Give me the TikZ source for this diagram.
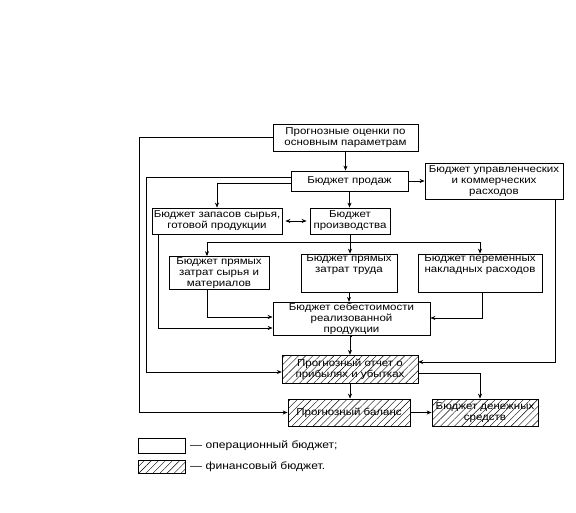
\documentclass[tikz,border=0pt]{standalone}
\usepackage{fontspec}
\setmainfont[FakeStretch=1.15]{Liberation Sans}
\usetikzlibrary{arrows.meta,patterns.meta}
\tikzset{
  box/.style={draw, line width=0.8pt, inner sep=1pt, align=center,
    font=\fontsize{10pt}{11pt}\selectfont},
  finb/.style={box, pattern={Lines[angle=45,distance=5pt,line width=0.4pt]}},
  arr/.style={line width=0.7pt, -{Stealth[length=5pt,width=4pt]}},
  ln/.style={line width=0.7pt},
  legtxt/.style={anchor=west, inner sep=0pt, font=\fontsize{10.5pt}{11pt}\selectfont}
}
\begin{document}
\begin{tikzpicture}[x=1pt,y=-1pt]
\useasboundingbox (0,0) rectangle (576,513);
% operational boxes
\node[box, minimum width=145pt, minimum height=27pt] (prog) at (345.5,137.5) {Прогнозные оценки по\\основным параметрам};
\node[box, minimum width=117pt, minimum height=20pt] (sales) at (349.5,181) {Бюджет продаж};
\node[box, minimum width=138pt, minimum height=36pt] (mgmt) at (494,181) {Бюджет управленческих\\и коммерческих\\расходов};
\node[box, minimum width=130pt, minimum height=26pt] (stock) at (217,221) {Бюджет запасов сырья,\\готовой продукции};
\node[box, minimum width=80pt, minimum height=26pt] (prod) at (350,221) {Бюджет\\производства};
\node[box, minimum width=100pt, minimum height=32pt] (mat) at (219,273) {Бюджет прямых\\затрат сырья и\\материалов};
\node[box, minimum width=96pt, minimum height=32pt] (labor) at (349,273) {Бюджет прямых\\затрат труда\\[7pt]};
\node[box, minimum width=124pt, minimum height=32pt] (var) at (480,273) {Бюджет переменных\\накладных расходов\\[7pt]};
\node[box, minimum width=157pt, minimum height=32pt] (cost) at (351.5,319) {Бюджет себестоимости\\реализованной\\продукции};
% financial boxes
\node[finb, minimum width=136pt, minimum height=28pt] (pl) at (350,369) {Прогнозный отчет о\\прибылях и убытках};
\node[finb, minimum width=122pt, minimum height=27pt] (bal) at (349,412.5) {Прогнозный баланс};
\node[finb, minimum width=106pt, minimum height=27pt] (cash) at (485,412.5) {Бюджет денежных\\средств};
% connectors
\draw[arr] (prog.west) -- ++(-133,0) |- (bal.west);
\draw[arr] (prog.south) -- (prog.south |- sales.north);
\draw[arr] ([yshift=4pt]sales.west) -- ++(-144,0) |- ([yshift=-3pt]pl.west);
\draw[arr] ([yshift=-2pt]sales.west) -| (stock.north);
\draw[arr] (sales.south) -- (sales.south |- prod.north);
\draw[arr] (sales.east) -- (mgmt.west);
\draw[ln, {Stealth[length=5pt,width=4pt]}-{Stealth[length=5pt,width=4pt]}] ([xshift=3pt]stock.east) -- ([xshift=-3pt]prod.west);
\coordinate (j) at (350,242);
\draw[ln] (prod.south) -- (j);
\draw[arr] (j) -- (j |- labor.north);
\draw[arr] (j) -| ([xshift=-12pt]mat.north);
\draw[arr] (j) -| (var.north);
\draw[arr] ([xshift=-59pt]stock.south) |- ([yshift=-9pt]cost.west);
\draw[arr] ([xshift=-12pt]mat.south) |- ([yshift=2pt]cost.west);
\draw[arr] ([xshift=2pt]var.south) |- ([yshift=1pt]cost.east);
\draw[arr] (labor.south) -- (labor.south |- cost.north);
\draw[arr] (cost.south) -- (cost.south -| pl.north) -- (pl.north);
\draw[arr] ([xshift=61pt]mgmt.south) |- ([yshift=7pt]pl.east);
\draw[arr] ([yshift=-4pt]pl.east) -| ([xshift=-5pt]cash.north);
\draw[arr] (pl.south) -- (pl.south |- bal.north);
\draw[arr] (bal.east) -- (cash.west);
% legend
\node[box, minimum width=47pt, minimum height=15pt] (leg1) at (161.5,445.5) {};
\node[finb, minimum width=47pt, minimum height=13pt] (leg2) at (161.5,466.5) {};
\node[legtxt] (legt1) at (190,445.5) {— операционный бюджет;};
\node[legtxt] (legt2) at (190,466.5) {— финансовый бюджет.};
\end{tikzpicture}
\end{document}
